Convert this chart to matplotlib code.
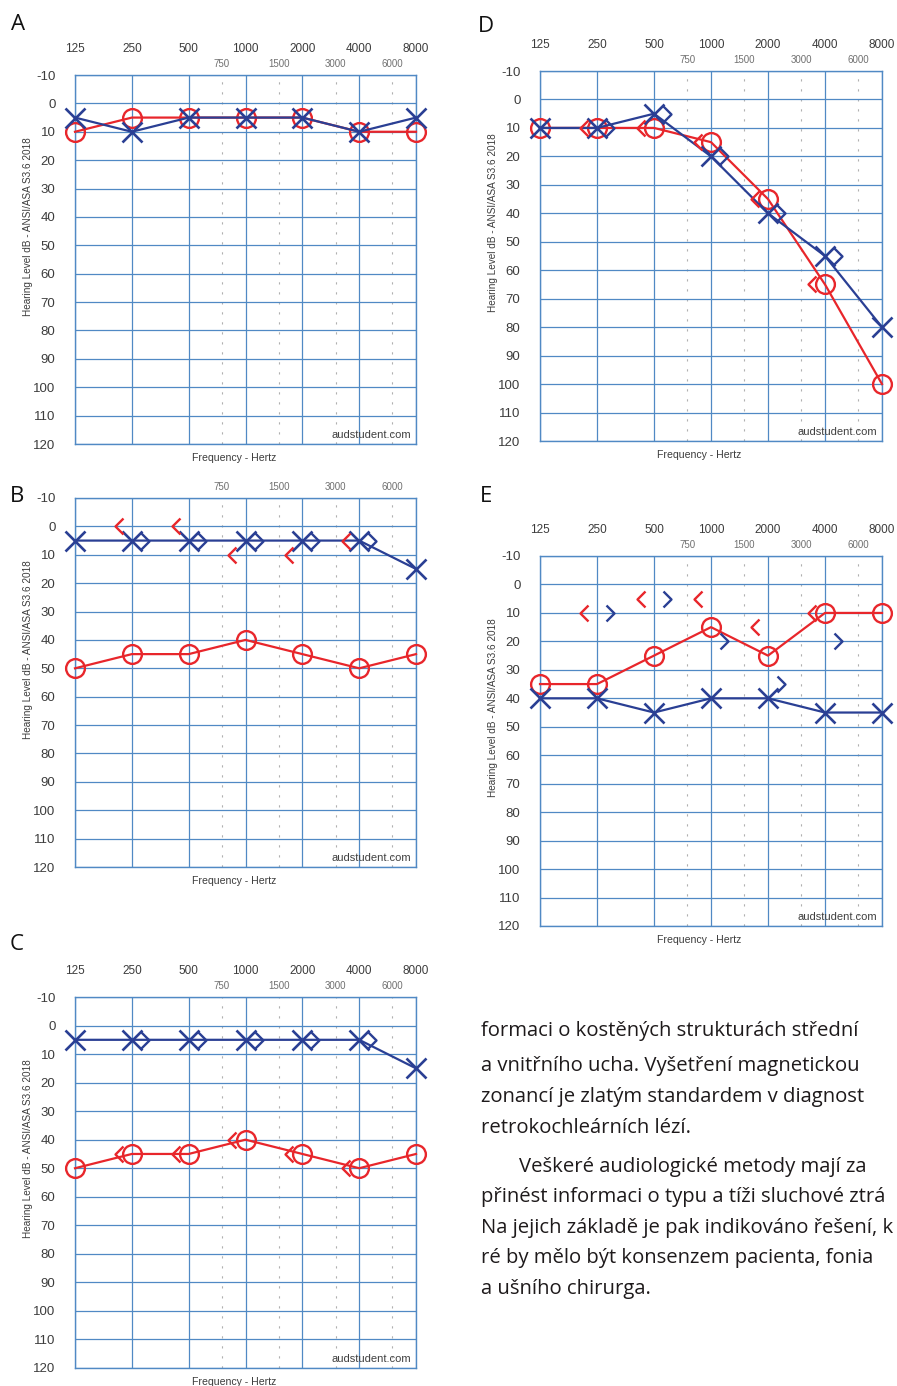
import matplotlib
matplotlib.use("Agg")
import matplotlib.pyplot as plt
from matplotlib.path import Path

# ---------------- data ----------------
freqs = [125, 250, 500, 1000, 2000, 4000, 8000]
half_freqs = [750, 1500, 3000, 6000]
bone_freqs = [250, 500, 1000, 2000, 4000]
db_ticks = [-10, 0, 10, 20, 30, 40, 50, 60, 70, 80, 90, 100, 110, 120]

A_right_air = [10, 5, 5, 5, 5, 10, 10]
A_left_air = [5, 10, 5, 5, 5, 10, 5]

B_right_air = [50, 45, 45, 40, 45, 50, 45]
B_left_air = [5, 5, 5, 5, 5, 5, 15]
B_right_bone = [0, 0, 10, 10, 5]
B_left_bone = [5, 5, 5, 5, 5]

C_right_air = [50, 45, 45, 40, 45, 50, 45]
C_left_air = [5, 5, 5, 5, 5, 5, 15]
C_right_bone = [45, 45, 40, 45, 50]
C_left_bone = [5, 5, 5, 5, 5]

D_right_air = [10, 10, 10, 15, 35, 65, 100]
D_left_air = [10, 10, 5, 20, 40, 55, 80]
D_right_bone = [10, 10, 15, 35, 65]
D_left_bone = [10, 5, 20, 40, 55]

E_right_air = [35, 35, 25, 15, 25, 10, 10]
E_left_air = [40, 40, 45, 40, 40, 45, 45]
E_right_bone = [10, 5, 5, 15, 10]
E_left_bone = [10, 5, 20, 35, 20]

text_lines = [
    "formaci o kostěných strukturách střední",
    "a vnitřního ucha. Vyšetření magnetickou",
    "zonancí je zlatým standardem v diagnost",
    "retrokochleárních lézí.",
    "Veškeré audiologické metody mají za",
    "přinést informaci o typu a tíži sluchové ztrá",
    "Na jejich základě je pak indikováno řešení, k",
    "ré by mělo být konsenzem pacienta, fonia",
    "a ušního chirurga.",
]

# ---------------- style ----------------
RED = "#e8262b"
BLUE = "#2a3f94"
GRID = "#5089c4"
HALF = "#b0b0b0"
TICK = "#3c3c3c"
SMALLF = "Liberation Sans"

W, H = 897, 1386
fig = plt.figure(figsize=(W / 100, H / 100), dpi=100)

LT = Path([(0.5, 1.0), (-0.5, 0.0), (0.5, -1.0)], [Path.MOVETO, Path.LINETO, Path.LINETO])
GT = Path([(-0.5, 1.0), (0.5, 0.0), (-0.5, -1.0)], [Path.MOVETO, Path.LINETO, Path.LINETO])
OFF = 2 ** 0.23


def px_axes(left, top, right, bottom):
    return fig.add_axes([left / W, 1 - bottom / H, (right - left) / W, (bottom - top) / H])


def audiogram(ax, r_air, l_air, r_bone=None, l_bone=None, major_labels=True):
    ax.set_xscale("log", base=2)
    ax.set_xlim(125, 8000)
    ax.set_ylim(120, -10)
    for f in freqs:
        ax.axvline(f, color=GRID, lw=0.9, zorder=1)
    for f in half_freqs:
        ax.axvline(f, color=HALF, lw=0.8, ls=(0, (2, 7)), zorder=1)
    for d in db_ticks:
        ax.axhline(d, color=GRID, lw=0.9, zorder=1)
    for s in ax.spines.values():
        s.set_color(GRID)
        s.set_linewidth(1.0)
    ax.set_yticks(db_ticks)
    ax.set_yticklabels([str(d) for d in db_ticks], fontsize=9.5, color=TICK, family=SMALLF)
    ax.tick_params(axis="y", length=0, pad=14)
    ax.xaxis.tick_top()
    ax.set_xticks(freqs)
    ax.set_xticks(half_freqs, minor=True)
    if major_labels:
        ax.set_xticklabels([str(f) for f in freqs], fontsize=8.5, color=TICK, family=SMALLF)
    else:
        ax.set_xticklabels([""] * len(freqs))
    ax.set_xticklabels([str(f) for f in half_freqs], minor=True, fontsize=7, color="#707070", family=SMALLF)
    ax.tick_params(axis="x", which="major", length=0, pad=14.5)
    ax.tick_params(axis="x", which="minor", length=0, pad=4.5)

    ax.plot(freqs, r_air, color=RED, lw=1.6, marker="o", ms=13.5, mfc="none", mec=RED, mew=1.7, zorder=3, clip_on=False)
    ax.plot(freqs, l_air, color=BLUE, lw=1.6, marker="x", ms=14, mec=BLUE, mew=1.9, zorder=4, clip_on=False)
    if r_bone is not None:
        ax.plot([f / OFF for f in bone_freqs], r_bone, ls="none", marker=LT, ms=11.5,
                mfc="none", mec=RED, mew=1.7, zorder=5, clip_on=False)
    if l_bone is not None:
        ax.plot([f * OFF for f in bone_freqs], l_bone, ls="none", marker=GT, ms=11.5,
                mfc="none", mec=BLUE, mew=1.7, zorder=5, clip_on=False)

    ax.text(-0.138, 0.59, "Hearing Level dB - ANSI/ASA S3.6 2018", transform=ax.transAxes,
            rotation=90, ha="center", va="center", fontsize=7.2, color=TICK, family=SMALLF)
    ax.text(0.466, -0.038, "Frequency - Hertz", transform=ax.transAxes,
            ha="center", va="center", fontsize=7.6, color=TICK, family=SMALLF)
    ax.text(0.985, 0.024, "audstudent.com", transform=ax.transAxes,
            ha="right", va="center", fontsize=8, color="#404040", family=SMALLF, zorder=6)


axA = px_axes(75, 75, 416, 444)
audiogram(axA, A_right_air, A_left_air)
axB = px_axes(75, 498, 416, 867)
audiogram(axB, B_right_air, B_left_air, B_right_bone, B_left_bone, major_labels=False)
axC = px_axes(75, 997, 416, 1368)
audiogram(axC, C_right_air, C_left_air, C_right_bone, C_left_bone)
axD = px_axes(540, 71, 882, 441)
audiogram(axD, D_right_air, D_left_air, D_right_bone, D_left_bone)
axE = px_axes(540, 556, 882, 926)
audiogram(axE, E_right_air, E_left_air, E_right_bone, E_left_bone)

for lab, x, y in [("A", 18, 25), ("B", 17, 497), ("C", 17, 945), ("D", 486, 27), ("E", 486, 497)]:
    fig.text(x / W, 1 - y / H, lab, ha="center", va="center", fontsize=16, family="Open Sans", color="#111111")

ys = [1031, 1066, 1097, 1128, 1167, 1197, 1228, 1258, 1289]
for i, (line, y) in enumerate(zip(text_lines, ys)):
    x = 519 if i == 4 else 481
    fig.text(x / W, 1 - y / H, line, ha="left", va="center", fontsize=14.6, family="Open Sans", color="#1e1a1b")

fig.savefig("out.png", dpi=100)
